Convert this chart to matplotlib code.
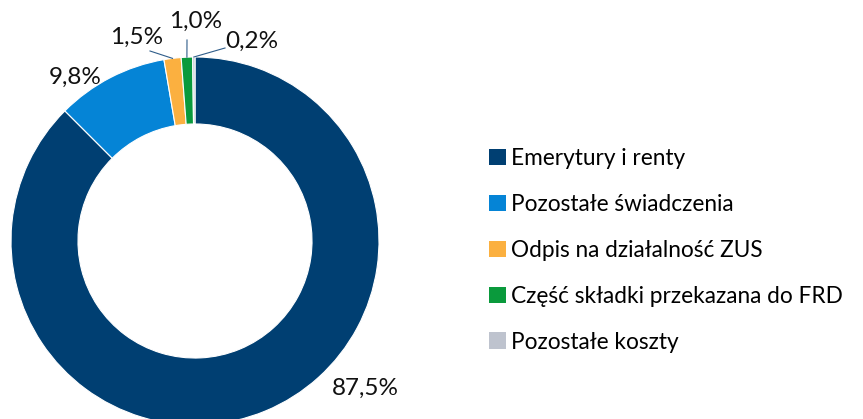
import math

import matplotlib.pyplot as plt
from matplotlib.patches import Patch

categories = [
    "Emerytury i renty",
    "Pozostałe świadczenia",
    "Odpis na działalność ZUS",
    "Część składki przekazana do FRD",
    "Pozostałe koszty",
]
values = [87.5, 9.8, 1.5, 1.0, 0.2]
colors = ["#003F72", "#0584D6", "#FBB040", "#0A9A3C", "#BEC3CE"]

# Label positions in pixel space of the reference (x, y from top), leader flag
label_pos = [(365, 388), (75, 77), (137, 37), (196, 21), (252, 41)]
leader = [False, False, True, True, True]
leader_start = [None, None, (150, 51), (187, 40), (225, 48)]

W, H = 863, 419
CX, CY, R = 195, 241, 184

plt.rcParams["font.family"] = ["Lato", "DejaVu Sans"]

fig = plt.figure(figsize=(W / 100, H / 100), dpi=100)
ax = fig.add_axes([(CX - R) / W, (H - CY - R) / H, 2 * R / W, 2 * R / H])
ax.axis("off")

wedges, _ = ax.pie(
    values,
    colors=colors,
    startangle=90,
    counterclock=False,
    radius=1.0,
    wedgeprops=dict(width=0.364, edgecolor="white", linewidth=0.8),
)
ax.set_aspect("auto")
ax.set_xlim(-1, 1)
ax.set_ylim(-1, 1)


def to_data(px, py):
    return (px - CX) / R, (CY - py) / R


for w, v, pos, has_line, start in zip(wedges, values, label_pos, leader, leader_start):
    txt = f"{v:.1f}%".replace(".", ",")
    x, y = to_data(*pos)
    ax.text(x, y, txt, ha="center", va="center", fontsize=17.5, color="#111111",
            clip_on=False)
    if has_line:
        mid = math.radians((w.theta1 + w.theta2) / 2)
        ex, ey = math.cos(mid), math.sin(mid)
        sx, sy = to_data(*start)
        ax.plot([sx, ex], [sy, ey], color="#2F5D8A", linewidth=0.8, clip_on=False)

handles = [Patch(facecolor=c, edgecolor="none") for c in colors]
fig.legend(
    handles,
    categories,
    loc="upper left",
    bbox_to_anchor=(489 / W, 1 - 148 / H),
    frameon=False,
    fontsize=16.3,
    handlelength=0.75,
    handleheight=0.75,
    handletextpad=0.22,
    labelspacing=1.1,
    borderaxespad=0,
    borderpad=0,
)

fig.savefig("out.png", dpi=100)
